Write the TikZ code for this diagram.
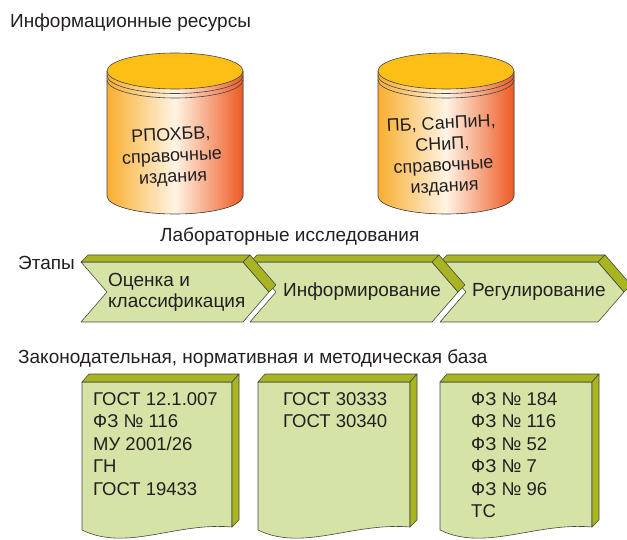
\documentclass[tikz,border=0pt]{standalone}
\usepackage{fontspec}
\setmainfont{Liberation Sans}

\definecolor{facegreen}{RGB}{214,227,166}
\definecolor{rimolive}{RGB}{168,181,32}
\definecolor{edgegray}{RGB}{70,70,70}
\definecolor{cyltop}{RGB}{253,190,22}
\definecolor{cylleft}{RGB}{249,174,48}
\definecolor{cylmid}{RGB}{255,244,228}
\definecolor{cylright}{RGB}{238,90,36}
\definecolor{inkgray}{RGB}{35,31,32}

\begin{document}
\begin{tikzpicture}[
    x=1pt, y=-1pt,
    heading/.style={anchor=base west,inner sep=0pt,text=inkgray,font=\fontsize{19}{22}\selectfont},
    face/.style={fill=facegreen,draw=edgegray,line width=0.6pt,line join=round},
    rim/.style={fill=rimolive,draw=edgegray,line width=0.6pt,line join=round},
    cyl line/.style={draw=edgegray,line width=0.6pt},
    cyl text/.style={align=center,inner sep=0pt,rotate=3,text=inkgray,font=\fontsize{18}{21}\selectfont},
    stage text/.style={anchor=base west,align=left,inner sep=0pt,text=inkgray,font=\fontsize{19}{21}\selectfont},
    list text/.style={anchor=base west,align=left,inner sep=0pt,text=inkgray,font=\fontsize{18.5}{22.5}\selectfont},
]
\useasboundingbox (0,0) rectangle (627,540);

% headings
\node[heading] (info-title) at (10,28) {Информационные ресурсы};
\node[heading] (lab-title) at (160,242) {Лабораторные исследования};
\node[heading] (stage-label) at (18,270) {Этапы};
\node[heading] (base-title) at (18,363) {Законодательная, нормативная и методическая база};

% resource cylinders
\foreach \cx in {175,446} {
    \fill[left color=cylleft,right color=cylright,middle color=cylmid]
        (\cx-68,71) -- (\cx-68,196) arc[start angle=180,end angle=0,x radius=68,y radius=18] -- (\cx+68,71) -- cycle;
    \draw[cyl line] (\cx-68,71) -- (\cx-68,196) arc[start angle=180,end angle=0,x radius=68,y radius=18] -- (\cx+68,71);
    \draw[cyl line] (\cx-68,75.5) arc[start angle=180,end angle=0,x radius=68,y radius=18];
    \draw[cyl line] (\cx-68,80) arc[start angle=180,end angle=0,x radius=68,y radius=18];
    \draw[cyl line,fill=cyltop] (\cx,71) ellipse[x radius=68,y radius=18];
}
\node[cyl text] (res-1) at (172,157) {РПОХБВ,\\справочные\\издания};
\node[cyl text] (res-2) at (443,156) {ПБ, СанПиН,\\СНиП,\\справочные\\издания};

% stages
\foreach \xa/\xb in {440/598,250/432,81/243} {
    \draw[face] (\xa,262) -- (\xa+26,292) -- (\xa,322) -- (\xb,322) -- (\xb+26,292) -- (\xb,262) -- cycle;
    \draw[rim] (\xa,262) -- (\xa+7,255) -- (\xb+7,255) -- (\xb,262) -- cycle;
    \draw[rim] (\xb,262) -- (\xb+7,255) -- (\xb+33,285) -- (\xb+26,292) -- cycle;
}
\node[stage text] (stage-1) at (108,308) {Оценка и\\классификация};
\node[stage text] (stage-2) at (283,297) {Информирование};
\node[stage text] (stage-3) at (472,297) {Регулирование};

% documents
\foreach \xa/\xb in {82/232,258/410,440/592} {
    \draw[face] (\xa,382) -- (\xb,382) -- (\xb,527) .. controls (\xb-57,522) and (\xa+45,552) .. (\xa,530) -- cycle;
    \draw[rim] (\xa,382) -- (\xa+7,374) -- (\xb+7,374) -- (\xb,382) -- cycle;
    \draw[rim] (\xb,382) -- (\xb+7,374) -- (\xb+7,520) -- (\xb,527) -- cycle;
}
\node[list text] (doc-1) at (93,495) {ГОСТ 12.1.007\\ФЗ № 116\\МУ 2001/26\\ГН\\ГОСТ 19433};
\node[list text] (doc-2) at (283,427.5) {ГОСТ 30333\\ГОСТ 30340};
\node[list text] (doc-3) at (471,517.5) {ФЗ № 184\\ФЗ № 116\\ФЗ № 52\\ФЗ № 7\\ФЗ № 96\\ТС};
\end{tikzpicture}
\end{document}
